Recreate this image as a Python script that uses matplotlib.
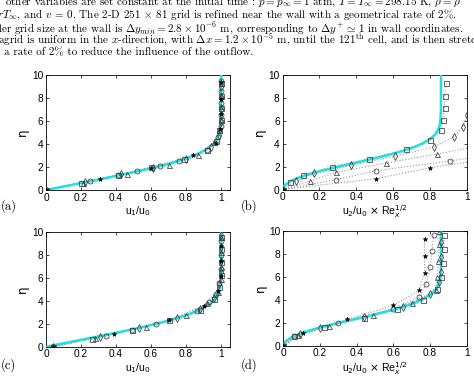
import numpy as np
import matplotlib
matplotlib.use("Agg")
import matplotlib.pyplot as plt

# ---- Blasius reference (cyan curve), tabulated ----
eta_bl = [0, 0.4, 0.8, 1.2, 1.6, 2.0, 2.4, 2.8, 3.2, 3.6, 4.0, 4.4, 4.8, 5.2, 5.6, 6.0, 7.0, 8.0, 10.0]
u_bl = [0, 0.1328, 0.2647, 0.3938, 0.5168, 0.6298, 0.7290, 0.8115, 0.8761, 0.9233,
        0.9555, 0.9759, 0.9878, 0.9943, 0.9975, 0.9990, 0.9999, 1.0, 1.0]
v_bl = [0, 0.0133, 0.0528, 0.1173, 0.2033, 0.3048, 0.4137, 0.5207, 0.6173, 0.6973,
        0.7581, 0.8008, 0.8281, 0.8443, 0.8530, 0.8572, 0.8600, 0.8604, 0.8604]

# ---- panel (a): u1/u0 ----
a_circ_eta = [0, 0.75, 1.3, 1.65, 2.05, 2.55, 3.5, 4.6, 5.6, 6.5, 7.6, 8.6, 9.5]
a_circ_u = [0, 0.25, 0.41, 0.52, 0.65, 0.76, 0.92, 0.98, 1.0, 1.0, 1.0, 1.0, 1.0]
a_tri_eta = [0, 0.65, 1.4, 2.15, 3.0, 4.2, 5.2, 6.2, 7.3, 8.3, 9.3]
a_tri_u = [0, 0.21, 0.46, 0.70, 0.87, 0.96, 0.99, 1.0, 1.0, 1.0, 1.0]
a_dia_eta = [0, 0.7, 1.35, 1.95, 2.7, 3.7, 4.8, 5.9, 7.0, 8.0, 9.0]
a_dia_u = [0, 0.22, 0.43, 0.61, 0.80, 0.94, 0.985, 1.0, 1.0, 1.0, 1.0]
a_sq_eta = [0, 0.6, 1.3, 2.0, 2.7, 3.5, 4.3, 5.2, 6.1, 7.1, 8.2, 9.3]
a_sq_u = [0, 0.2, 0.41, 0.6, 0.79, 0.92, 0.97, 0.99, 1.0, 1.0, 1.0, 1.0]
a_star_eta = [0, 0.95, 1.9, 3.0, 4.1, 5.3, 6.6, 7.9, 9.4]
a_star_u = [0, 0.31, 0.6, 0.84, 0.97, 0.995, 1.0, 1.0, 1.0]

# ---- panel (b): u2/u0 x Re^1/2 ----
b_sq_eta = [0, 0.65, 1.3, 2.0, 2.7, 3.5, 4.3, 5.2, 6.1, 7.1, 8.2, 9.3]
b_sq_v = [0, 0.04, 0.11, 0.27, 0.47, 0.67, 0.80, 0.86, 0.87, 0.88, 0.88, 0.89]
b_dia_eta = [0, 0.7, 1.4, 2.1, 2.9, 3.7, 4.6, 5.5, 6.5]
b_dia_v = [0, 0.075, 0.17, 0.37, 0.61, 0.82, 0.93, 0.98, 1.0]
b_tri_eta = [0, 0.75, 1.5, 2.3, 3.1, 3.9]
b_tri_v = [0, 0.15, 0.29, 0.56, 0.84, 1.1]
b_circ_eta = [0, 0.85, 1.65, 2.5, 3.4]
b_circ_v = [0, 0.29, 0.51, 0.91, 1.3]
b_star_eta = [0, 0.95, 1.9, 2.6]
b_star_v = [0, 0.51, 0.80, 1.1]

# ---- panel (c) ----
c_circ_eta = [0, 0.95, 1.5, 2.0, 3.1, 3.9, 4.6, 5.6, 6.8, 8.0, 9.2]
c_circ_u = [0.04, 0.34, 0.49, 0.63, 0.86, 0.93, 0.97, 0.99, 1.0, 1.0, 1.0]
c_tri_eta = [0, 0.75, 1.75, 2.8, 3.8, 4.8, 5.9, 7.0, 8.3, 9.6]
c_tri_u = [0.04, 0.28, 0.57, 0.80, 0.92, 0.98, 1.0, 1.0, 1.0, 1.0]
c_dia_eta = [0, 0.85, 1.6, 2.5, 3.3, 4.3, 5.5, 6.5, 7.5, 8.7, 9.8]
c_dia_u = [0.04, 0.31, 0.53, 0.75, 0.88, 0.96, 0.99, 1.0, 1.0, 1.0, 1.0]
c_sq_eta = [0, 0.7, 1.5, 2.3, 3.2, 4.2, 5.2, 6.3, 7.4, 8.5, 9.6]
c_sq_u = [0.04, 0.26, 0.49, 0.7, 0.88, 0.96, 0.99, 1.0, 1.0, 1.0, 1.0]
c_star_eta = [0, 1.1, 2.3, 3.6, 4.9, 6.2, 7.5, 8.8]
c_star_u = [0.04, 0.39, 0.7, 0.9, 0.98, 1.0, 1.0, 1.0]

# ---- panel (d) ----
d_sq_eta = [0, 0.8, 1.6, 2.4, 3.2, 4.0, 4.9, 6.0, 7.2, 8.4, 9.6]
d_sq_v = [0, 0.06, 0.22, 0.44, 0.62, 0.76, 0.84, 0.86, 0.87, 0.875, 0.875]
d_dia_eta = [0, 1.0, 1.55, 2.5, 3.4, 4.5, 5.5, 6.4, 7.7, 9.0]
d_dia_v = [0, 0.09, 0.2, 0.44, 0.65, 0.80, 0.85, 0.86, 0.86, 0.86]
d_tri_eta = [0, 0.9, 1.7, 2.7, 3.7, 4.8, 6.0, 7.4, 8.8, 10.0]
d_tri_v = [0, 0.08, 0.25, 0.49, 0.70, 0.83, 0.84, 0.845, 0.85, 0.85]
d_circ_eta = [0, 0.8, 2.0, 3.2, 4.2, 5.4, 6.8, 8.2, 9.6]
d_circ_v = [0, 0.06, 0.3, 0.6, 0.74, 0.78, 0.80, 0.81, 0.82]
d_star_eta = [0, 1.1, 2.3, 3.5, 4.8, 6.3, 7.8, 9.3]
d_star_v = [0, 0.11, 0.35, 0.6, 0.74, 0.77, 0.77, 0.77]

cyan = '#20e0e0'
mk_edge = '#3a3a3a'

fig = plt.figure(figsize=(4.74, 3.79), dpi=100)

# ---- page text above the figure ----
txt = dict(family='cmr10', math_fontfamily='cm', fontsize=8.0, va='center', ha='left')
lines = [
    (0.010, 2, r"other variables are set constant at the initial time : $p = p_\infty = 1$ atm, $T = T_\infty = 298.15$ K, $\rho = \rho$"),
    (-0.006, 15, r"$rT_\infty$, and $v\,=\,0$. The 2-D 251 $\times$ 81 grid is refined near the wall with a geometrical rate of 2%."),
    (-0.004, 28, r"ler grid size at the wall is $\Delta y_{min} = 2.8 \times 10^{-6}$ m, corresponding to $\Delta y^{+}\, \simeq\, 1$ in wall coordinates."),
    (-0.004, 40, r"agrid is uniform in the $x$-direction, with $\Delta x = 1.2 \times 10^{-5}$ m, until the 121$^{\rm th}$ cell, and is then stretched"),
    (0.008, 53, r"a rate of 2% to reduce the influence of the outflow."),
]
for x, ypx, s in lines:
    fig.text(x, 1 - ypx / 379, s, **txt)


def series(ax, xs, ys, marker, filled=False):
    ax.plot(xs, ys, ':', color='#9a9a9a', lw=0.8, zorder=2)
    if filled:
        ax.plot(xs, ys, linestyle='none', marker=marker, ms=3.4, mfc='black', mec='black',
                mew=0.4, zorder=4)
    else:
        ax.plot(xs, ys, linestyle='none', marker=marker, ms=3.6, mfc='none', mec=mk_edge,
                mew=0.55, zorder=4)


def style(ax, xlim, xlabel):
    ax.set_xlim(xlim)
    ax.set_ylim(0, 10)
    ax.set_xticks([0, 0.2, 0.4, 0.6, 0.8, 1])
    ax.set_xticklabels(['0', '0.2', '0.4', '0.6', '0.8', '1'])
    ax.set_yticks([0, 2, 4, 6, 8, 10])
    ax.tick_params(direction='in', top=True, right=True, length=2.5, width=0.5,
                   labelsize=7.3, pad=2)
    for lab in ax.get_xticklabels() + ax.get_yticklabels():
        lab.set_family('Liberation Sans')
    for sp in ax.spines.values():
        sp.set_linewidth(0.6)
    ax.set_xlabel(xlabel, fontsize=7.6, family='Liberation Sans', labelpad=1)
    ax.set_ylabel('η', fontsize=8.5, family='DejaVu Sans', labelpad=2)


axA = fig.add_axes([0.0970, 0.4987, 0.388, 0.3034])
axB = fig.add_axes([0.5960, 0.5000, 0.3886, 0.3020])
axC = fig.add_axes([0.0970, 0.0852, 0.388, 0.3018])
axD = fig.add_axes([0.5977, 0.0879, 0.3869, 0.3034])

# (a)
axA.plot(u_bl, eta_bl, color=cyan, lw=1.8, zorder=3)
series(axA, a_circ_u, a_circ_eta, 'o')
series(axA, a_tri_u, a_tri_eta, '^')
series(axA, a_dia_u, a_dia_eta, 'd')
series(axA, a_sq_u, a_sq_eta, 's')
series(axA, a_star_u, a_star_eta, '*', filled=True)
style(axA, (0, 1.05), r'u$_1$/u$_0$')

# (b)
axB.plot(v_bl, eta_bl, color=cyan, lw=1.8, zorder=3)
series(axB, b_sq_v, b_sq_eta, 's')
series(axB, b_dia_v, b_dia_eta, 'd')
series(axB, b_tri_v, b_tri_eta, '^')
series(axB, b_circ_v, b_circ_eta, 'o')
series(axB, b_star_v, b_star_eta, '*', filled=True)
style(axB, (0, 1), r'u$_2$/u$_0$ $\times$ Re$_x^{1/2}$')

# (c)
axC.plot(u_bl, eta_bl, color=cyan, lw=1.8, zorder=3)
series(axC, c_circ_u, c_circ_eta, 'o')
series(axC, c_tri_u, c_tri_eta, '^')
series(axC, c_dia_u, c_dia_eta, 'd')
series(axC, c_sq_u, c_sq_eta, 's')
series(axC, c_star_u, c_star_eta, '*', filled=True)
style(axC, (0, 1.05), r'u$_1$/u$_0$')

# (d)
axD.plot(v_bl, eta_bl, color=cyan, lw=1.8, zorder=3)
series(axD, d_sq_v, d_sq_eta, 's')
series(axD, d_dia_v, d_dia_eta, 'd')
series(axD, d_tri_v, d_tri_eta, '^')
series(axD, d_circ_v, d_circ_eta, 'o')
series(axD, d_star_v, d_star_eta, '*', filled=True)
style(axD, (0, 1), r'u$_2$/u$_0$ $\times$ Re$_x^{1/2}$')

lab = dict(family='cmr10', fontsize=9, va='center', ha='left')
fig.text(0.002, 1 - 206 / 379, '(a)', **lab)
fig.text(0.508, 1 - 206 / 379, '(b)', **lab)
fig.text(0.002, 1 - 365 / 379, '(c)', **lab)
fig.text(0.508, 1 - 365 / 379, '(d)', **lab)

fig.savefig('out.png', dpi=100)
